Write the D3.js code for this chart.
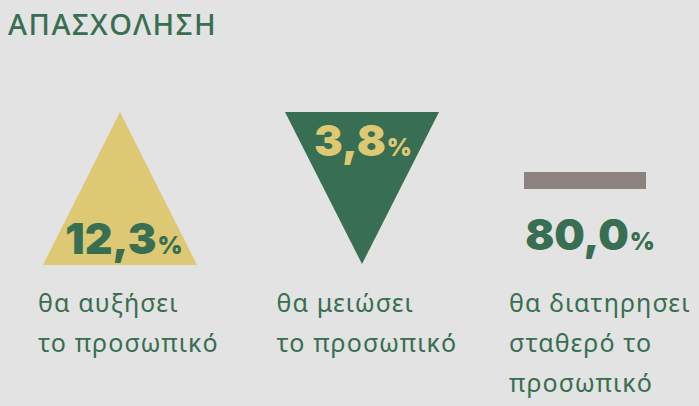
<!DOCTYPE html>
<html>
<head>
<meta charset="utf-8">
<script src="https://cdn.jsdelivr.net/npm/d3@7"></script>
<style>
  html, body { margin: 0; padding: 0; background: #e2e3e2; }
  svg { display: block; }
</style>
</head>
<body>
<script>
"use strict";

// data
const title = "ΑΠΑΣΧΟΛΗΣΗ";
const categories = ["increase", "decrease", "stable"];
const values = [12.3, 3.8, 80.0];
const labelLines = [
  ["θα αυξήσει", "το προσωπικό"],
  ["θα μειώσει", "το προσωπικό"],
  ["θα διατηρησει", "σταθερό το", "προσωπικό"]
];
const shapes = ["up", "down", "flat"];

const w = 699, h = 406;
const green = "#386e51", yellow = "#ddc874", grey = "#8c8380";

const svg = d3.select("body").append("svg")
  .attr("width", w)
  .attr("height", h);

svg.append("rect").attr("width", w).attr("height", h).attr("fill", "#e2e3e2");

svg.append("text")
  .attr("x", 8)
  .attr("y", 35)
  .attr("fill", green)
  .style("font-family", "'Noto Sans', sans-serif")
  .style("font-weight", 500)
  .style("font-size", "29px")
  .style("letter-spacing", "1.5px")
  .text(title);

// column centres (the middle column sits a little right of an even grid)
const xCenter = d3.scalePoint().domain(categories).range([123, 589]);
const xLabel = d3.scalePoint().domain(categories).range([38, 509]);
const nudge = {up: 0, down: 6, flat: 0};

const greek = d3.formatLocale({decimal: ",", thousands: ".", grouping: [3], currency: ["", "€"]});
const fmt = greek.format(".1f");

const cols = categories.map((c, i) => ({c, v: values[i], shape: shapes[i], lines: labelLines[i]}));
const cx = d => xCenter(d.c) + nudge[d.shape];

const g = svg.selectAll("g.col")
  .data(cols)
  .enter()
  .append("g")
  .attr("class", "col");

// shapes
const triW = 154, triTop = 112, triBot = 265;
g.filter(d => d.shape === "up").append("path")
  .attr("fill", yellow)
  .attr("d", d => {
    const x = cx(d) - 3;
    return `M${x},${triTop}L${x + triW / 2},${triBot}L${x - triW / 2},${triBot}Z`;
  });
g.filter(d => d.shape === "down").append("path")
  .attr("fill", green)
  .attr("d", d => {
    const x = cx(d);
    return `M${x - triW / 2},${triTop}L${x + triW / 2},${triTop}L${x},${triBot - 1}Z`;
  });
g.filter(d => d.shape === "flat").append("rect")
  .attr("fill", grey)
  .attr("x", d => cx(d) - 65)
  .attr("y", 172)
  .attr("width", 122)
  .attr("height", 17);

// values
const numY = {up: 254, down: 156, flat: 250};
const numFill = {up: green, down: yellow, flat: green};
const num = g.append("text")
  .attr("x", d => cx(d) + 1)
  .attr("y", d => numY[d.shape])
  .attr("text-anchor", "middle")
  .attr("fill", d => numFill[d.shape])
  .style("font-family", "Inter, sans-serif")
  .style("font-weight", 900);
num.append("tspan")
  .style("font-size", "43px")
  .text(d => fmt(d.v));
num.append("tspan")
  .attr("dx", 1)
  .style("font-size", "24px")
  .text("%");

// labels
const lab = g.append("text")
  .attr("fill", green)
  .style("font-family", "'Noto Sans', sans-serif")
  .style("font-size", "25px")
  .style("letter-spacing", "1.1px");
lab.selectAll("tspan")
  .data(d => d.lines.map(t => ({t, c: d.c, shape: d.shape})))
  .enter()
  .append("tspan")
  .attr("x", d => xLabel(d.c) + nudge[d.shape] / 2)
  .attr("y", (d, i) => 312 + i * 40)
  .text(d => d.t);
</script>
</body>
</html>
